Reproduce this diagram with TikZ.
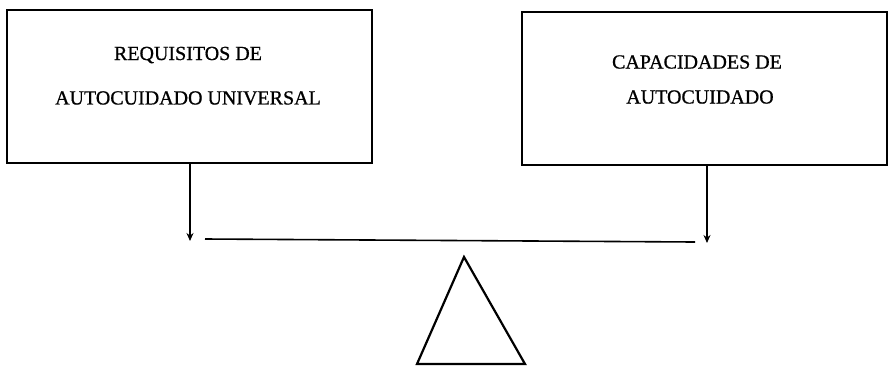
\documentclass[tikz,border=0pt]{standalone}
\usepackage{fontspec}
\setmainfont{Liberation Serif}[FakeBold=0.8]
\usetikzlibrary{arrows.meta}
\begin{document}
\begin{tikzpicture}[x=1pt,y=-1pt,
  boxst/.style={draw,line width=1.6pt,minimum width=365pt,minimum height=153pt,inner sep=0pt},
  lbl/.style={font=\fontsize{20}{24}\selectfont,inner sep=0pt},
  arr/.style={line width=1.3pt,-{Stealth[length=8pt,width=7pt]}},
  beam/.style={line width=1.6pt}]
\useasboundingbox (0,0) rectangle (895,368);
\node[boxst] (lb) at (189.5,86.5) {};
\node[boxst] (rb) at (704.5,88.5) {};
\node[lbl] (lt1) at (188,55) {REQUISITOS DE};
\node[lbl] (lt2) at (188,98) {AUTOCUIDADO UNIVERSAL};
\node[lbl] (rt1) at (697,62) {CAPACIDADES DE};
\node[lbl] (rt2) at (700,97) {AUTOCUIDADO};
\coordinate (la) at (190,241);
\coordinate (ra) at (707,243);
\coordinate (b1) at (205,239);
\coordinate (b2) at (695,242);
\draw[arr] (lb.south -| la) -- (la);
\draw[arr] (rb.south -| ra) -- (ra);
\draw[beam] (b1) -- (b2);
\coordinate (apex) at (464,257);
\coordinate (bl) at (417,364);
\coordinate (br) at (525,364);
\draw[line width=2.2pt,line join=miter] (apex) -- (br) -- (bl) -- cycle;
\end{tikzpicture}
\end{document}
